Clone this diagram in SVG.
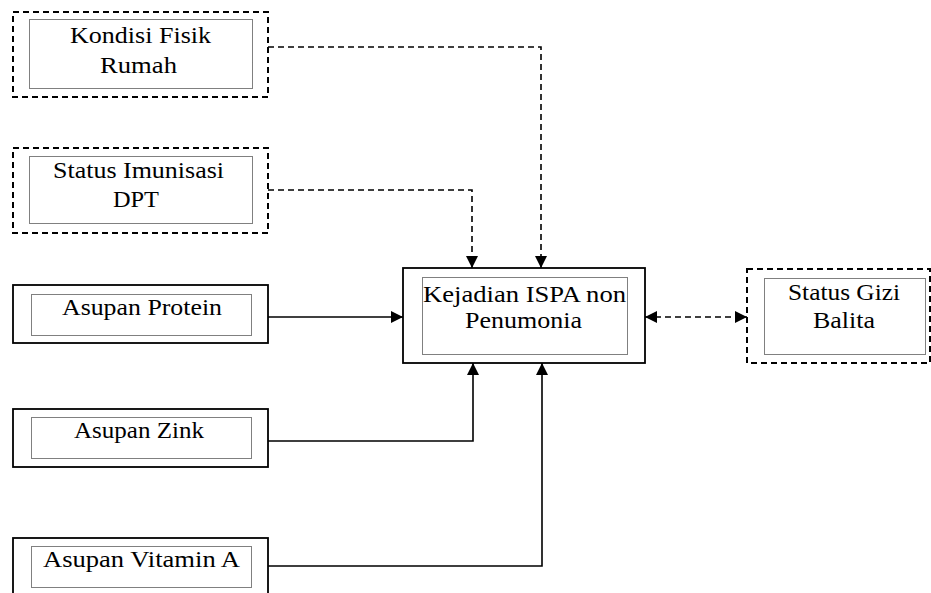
<svg xmlns="http://www.w3.org/2000/svg" width="931" height="593" viewBox="0 0 931 593">
<style>
.outer-d{fill:#fff;stroke:#000;stroke-width:2;stroke-dasharray:6,4}
.outer-s{fill:#fff;stroke:#000;stroke-width:1.8}
.inner{fill:none;stroke:#000;stroke-width:1;stroke-dasharray:1,1}
.t{font-family:"Liberation Serif","Times New Roman",serif;font-size:24px;fill:#000}
.c-d{fill:none;stroke:#000;stroke-width:1.6;stroke-dasharray:6,4}
.c-s{fill:none;stroke:#000;stroke-width:1.6}
</style>
<defs>
<marker id="arr" viewBox="0 0 12 12" markerUnits="userSpaceOnUse" markerWidth="12" markerHeight="12" refX="12" refY="6" orient="auto-start-reverse">
<path d="M0,0 L12,6 L0,12 z" fill="#000"/>
</marker>
</defs>
<rect width="931" height="593" fill="#fff"/>
<g id="connectors">
<path class="c-d" d="M268,47 H541 V268" marker-end="url(#arr)"/>
<path class="c-d" d="M268,190 H472 V268" marker-end="url(#arr)"/>
<path class="c-s" d="M268,317 H403" marker-end="url(#arr)"/>
<path class="c-s" d="M268,441 H473 V363" marker-end="url(#arr)"/>
<path class="c-s" d="M268,566 H542 V363" marker-end="url(#arr)"/>
<path class="c-d" d="M645,317 H747" marker-start="url(#arr)" marker-end="url(#arr)"/>
</g>
<g id="kondisi">
<rect class="outer-d" x="13" y="12" width="255" height="85"/>
<rect class="inner" x="29.5" y="19.5" width="223" height="69"/>
<text class="t" x="70" y="43" textLength="141" lengthAdjust="spacingAndGlyphs">Kondisi Fisik</text>
<text class="t" x="100" y="73" textLength="77" lengthAdjust="spacingAndGlyphs">Rumah</text>
</g>
<g id="imunisasi">
<rect class="outer-d" x="13" y="148" width="255" height="85"/>
<rect class="inner" x="29.5" y="156.5" width="223" height="67"/>
<text class="t" x="53" y="178" textLength="171" lengthAdjust="spacingAndGlyphs">Status Imunisasi</text>
<text class="t" x="113" y="207" textLength="46" lengthAdjust="spacingAndGlyphs">DPT</text>
</g>
<g id="protein">
<rect class="outer-s" x="13" y="285" width="255" height="58"/>
<rect class="inner" x="31.5" y="294.5" width="220" height="41"/>
<text class="t" x="62" y="315" textLength="160" lengthAdjust="spacingAndGlyphs">Asupan Protein</text>
</g>
<g id="zink">
<rect class="outer-s" x="13" y="409" width="255" height="58"/>
<rect class="inner" x="31.5" y="417.5" width="220" height="41"/>
<text class="t" x="74" y="438" textLength="130" lengthAdjust="spacingAndGlyphs">Asupan Zink</text>
</g>
<g id="vitamin">
<rect class="outer-s" x="13" y="538" width="255" height="70"/>
<rect class="inner" x="31.5" y="546.5" width="220" height="41"/>
<text class="t" x="43" y="567" textLength="197" lengthAdjust="spacingAndGlyphs">Asupan Vitamin A</text>
</g>
<g id="ispa">
<rect class="outer-s" x="403" y="268" width="242" height="95"/>
<rect class="inner" x="422.5" y="277.5" width="205" height="77"/>
<text class="t" x="423" y="302" textLength="203" lengthAdjust="spacingAndGlyphs">Kejadian ISPA non</text>
<text class="t" x="465" y="328" textLength="117" lengthAdjust="spacingAndGlyphs">Penumonia</text>
</g>
<g id="gizi">
<rect class="outer-d" x="747" y="269" width="183" height="94"/>
<rect class="inner" x="764.5" y="278.5" width="161" height="76"/>
<text class="t" x="788" y="300" textLength="112" lengthAdjust="spacingAndGlyphs">Status Gizi</text>
<text class="t" x="813" y="328" textLength="62" lengthAdjust="spacingAndGlyphs">Balita</text>
</g>
</svg>
